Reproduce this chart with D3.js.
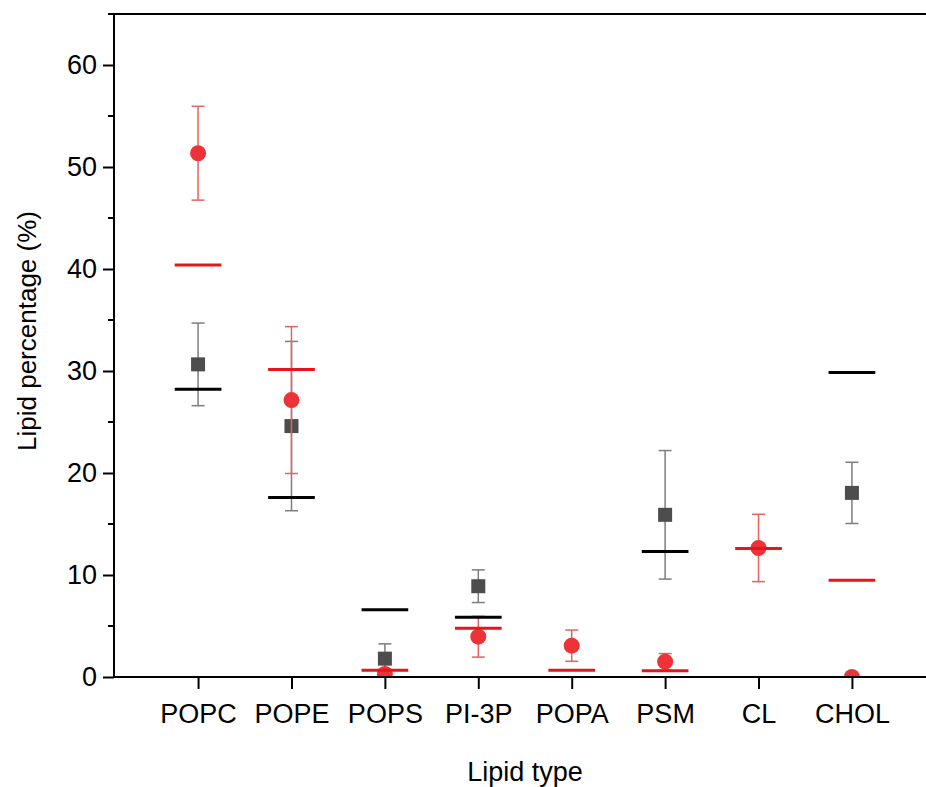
<!DOCTYPE html>
<html>
<head>
<meta charset="utf-8">
<script src="https://cdn.jsdelivr.net/npm/d3@7"></script>
<style>
  body { margin: 0; background: #fff; }
  svg { display: block; font-family: "Liberation Sans", Arial, sans-serif; }
</style>
</head>
<body>
<div id="chart"></div>
<script>
(function(){
  // values
  var categories = ["POPC", "POPE", "POPS", "PI-3P", "POPA", "PSM", "CL", "CHOL"]
  var blackLevel = [28.2, 17.6, 6.6, 5.85, null, 12.3, null, 29.85]
  var redLevel = [40.4, 30.15, 0.65, 4.77, 0.65, 0.62, 12.6, 9.48]
  var grayMean = [30.65, 24.6, 1.8, 8.9, null, 15.9, null, 18.05]
  var grayErr = [4.05, 8.3, 1.45, 1.6, null, 6.3, null, 3.0]
  var redMean = [51.35, 27.15, 0.3, 3.95, 3.07, 1.5, 12.65, 0.0]
  var redErr = [4.6, 7.2, 0.3, 2.0, 1.53, 0.8, 3.3, 0]
  var yTicks = [0, 10, 20, 30, 40, 50, 60]
  var yMinor = [5, 15, 25, 35, 45, 55, 65]

  var W = 926, H = 787
  var LEFT = 114, TOP = 14, BOTTOM = 677, RIGHT = 936

  var svg = d3.select("#chart").append("svg")
    .attr("width", W).attr("height", H)

  var x = d3.scaleLinear().domain([0.1, 8.9]).range([LEFT, RIGHT])
  var y = d3.scaleLinear().domain([0, 65]).range([BOTTOM, TOP])

  svg.append("clipPath").attr("id", "plot")
    .append("rect")
    .attr("x", LEFT).attr("y", TOP)
    .attr("width", RIGHT - LEFT).attr("height", BOTTOM - TOP)

  var marks = svg.append("g").attr("clip-path", "url(#plot)")

  var rows = categories.map(function(c, i) {
    return { i: i + 1, black: blackLevel[i], red: redLevel[i],
      gm: grayMean[i], ge: grayErr[i], rm: redMean[i], re: redErr[i] }
  })

  function errorBars(data, mean, err, color) {
    var g = marks.append("g").attr("stroke", color).attr("stroke-width", 1.5)
    data = data.filter(function(d) { return d[mean] != null && d[err] > 0 })
    g.selectAll("line.v").data(data).enter().append("line")
      .attr("x1", function(d) { return x(d.i) }).attr("x2", function(d) { return x(d.i) })
      .attr("y1", function(d) { return y(d[mean] + d[err]) })
      .attr("y2", function(d) { return y(d[mean] - d[err]) })
    ;[1, -1].forEach(function(s) {
      g.selectAll(null).data(data).enter().append("line")
        .attr("x1", function(d) { return x(d.i) - 6.5 })
        .attr("x2", function(d) { return x(d.i) + 6.5 })
        .attr("y1", function(d) { return y(d[mean] + s * d[err]) })
        .attr("y2", function(d) { return y(d[mean] + s * d[err]) })
    })
  }

  function levels(key, color) {
    marks.append("g").selectAll("line")
      .data(rows.filter(function(d) { return d[key] != null }))
      .enter().append("line")
      .attr("x1", function(d) { return x(d.i - 0.25) })
      .attr("x2", function(d) { return x(d.i + 0.25) })
      .attr("y1", function(d) { return y(d[key]) })
      .attr("y2", function(d) { return y(d[key]) })
      .attr("stroke", color).attr("stroke-width", 3)
  }

  errorBars(rows, "gm", "ge", "#7d7d7d")
  marks.append("g").selectAll("rect")
    .data(rows.filter(function(d) { return d.gm != null }))
    .enter().append("rect")
    .attr("x", function(d) { return x(d.i) - 7 })
    .attr("y", function(d) { return y(d.gm) - 7 })
    .attr("width", 14).attr("height", 14)
    .attr("fill", "#4d4d4d")

  errorBars(rows, "rm", "re", "#e36262")
  marks.append("g").selectAll("circle")
    .data(rows)
    .enter().append("circle")
    .attr("cx", function(d) { return x(d.i) })
    .attr("cy", function(d) { return y(d.rm) })
    .attr("r", 8)
    .attr("fill", "#ee3338")

  levels("black", "#000")
  levels("red", "#e8141c")

  // axes
  var yAxis = svg.append("g").attr("transform", "translate(" + LEFT + ",0)")
    .call(d3.axisLeft(y).tickValues(yTicks).tickSize(11).tickPadding(6))
  yAxis.append("g").selectAll("line").data(yMinor).enter().append("line")
    .attr("x1", -6).attr("x2", 0)
    .attr("y1", function(d) { return y(d) }).attr("y2", function(d) { return y(d) })
    .attr("stroke", "#000").attr("stroke-width", 2)

  var xAxis = svg.append("g").attr("transform", "translate(0," + BOTTOM + ")")
    .call(d3.axisBottom(x).tickValues(d3.range(1, 9)).tickSize(12)
      .tickFormat(function(d) { return categories[d - 1] }))
  xAxis.selectAll("text").attr("y", 46).attr("dy", 0)

  ;[yAxis, xAxis].forEach(function(a) {
    a.select(".domain").remove()
    a.selectAll("line").attr("stroke", "#000").attr("stroke-width", 2)
    a.selectAll("text").attr("fill", "#000")
      .style("font-size", "27px").style("font-family", "Liberation Sans, Arial, sans-serif")
  })

  // frame: left, bottom and top lines (right side falls off the picture)
  svg.append("path")
    .attr("d", "M" + RIGHT + "," + TOP + "H" + LEFT + "V" + BOTTOM + "H" + RIGHT + "V" + TOP)
    .attr("fill", "none").attr("stroke", "#000").attr("stroke-width", 2)

  svg.append("text")
    .attr("x", (LEFT + RIGHT) / 2).attr("y", 781)
    .attr("text-anchor", "middle")
    .style("font-size", "27px")
    .text("Lipid type")

  svg.append("text")
    .attr("transform", "translate(36,331) rotate(-90)")
    .attr("text-anchor", "middle")
    .style("font-size", "26px")
    .text("Lipid percentage (%)")
})()
</script>
</body>
</html>
